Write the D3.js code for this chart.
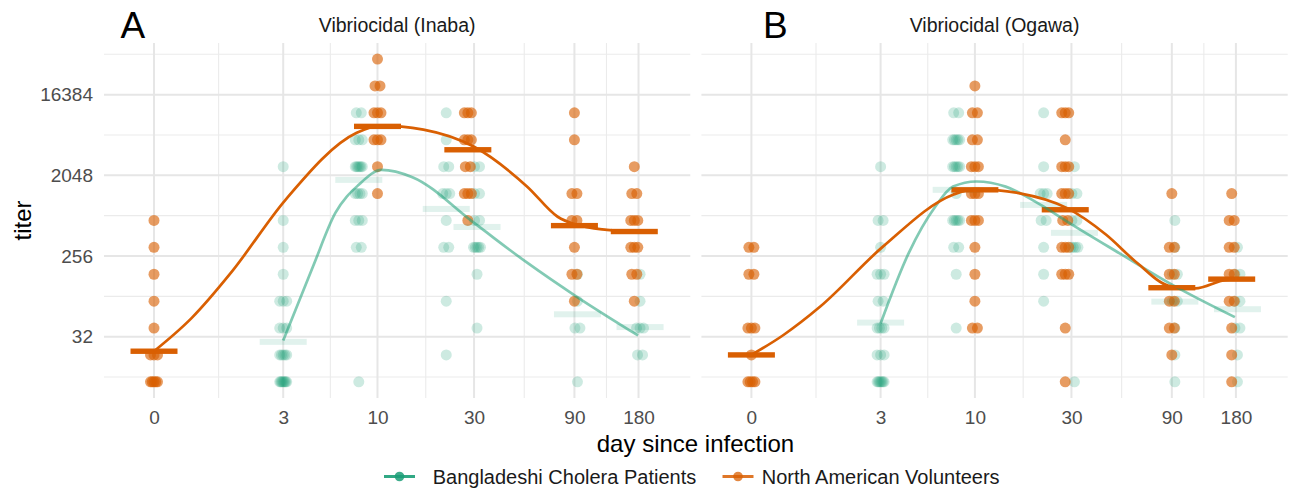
<!DOCTYPE html>
<html>
<head>
<meta charset="utf-8">
<script src="https://cdn.jsdelivr.net/npm/d3@7"></script>
<style>
  body { margin: 0; background: #fff; }
  text { font-family: "Liberation Sans", Arial, Helvetica, sans-serif; }
</style>
</head>
<body>
<div id="app"></div>
<script>
// ---- data ----
const groups = ["Bangladeshi Cholera Patients", "North American Volunteers"];
const panelTitles = ["Vibriocidal (Inaba)", "Vibriocidal (Ogawa)"];
const panelTags = ["A", "B"];
const dayTicks = [0, 3, 10, 30, 90, 180];
const titerTicks = [32, 256, 2048, 16384];

// sampling days of each visit
const patientDays = [3, 8, 22, 31, 93, 183];
const volunteerDays = [0, 10, 28, 90, 172];

// individual titers, one list per visit
const inabaPatients = [
  [2560, 640, 320, 160, 80, 80, 80, 40, 40, 40, 20, 20, 20, 20, 20, 10, 10, 10, 10, 10, 10, 10, 10],
  [10240, 10240, 5120, 5120, 5120, 2560, 2560, 2560, 2560, 2560, 2560, 1280, 1280, 1280, 1280, 640, 640, 640, 320, 320, 10],
  [10240, 5120, 2560, 2560, 1280, 1280, 1280, 640, 320, 320, 80, 20],
  [2560, 2560, 1280, 1280, 640, 640, 320, 320, 320, 320, 320, 160, 40],
  [160, 80, 40, 40, 10],
  [160, 80, 40, 40, 40, 20, 20]
];
const inabaVolunteers = [
  [640, 320, 160, 80, 40, 20, 20, 20, 10, 10, 10, 10, 10],
  [40960, 20480, 20480, 10240, 10240, 10240, 5120, 5120, 5120, 2560, 1280],
  [10240, 10240, 10240, 5120, 5120, 5120, 2560, 2560, 1280, 1280, 1280, 640],
  [10240, 5120, 1280, 1280, 640, 640, 320, 160, 160, 80],
  [2560, 1280, 1280, 640, 640, 640, 320, 320, 320, 160, 160, 80]
];
const ogawaPatients = [
  [2560, 640, 640, 320, 160, 160, 160, 80, 80, 40, 40, 40, 40, 20, 20, 20, 10, 10, 10, 10, 10, 10, 10],
  [10240, 10240, 5120, 5120, 5120, 5120, 5120, 2560, 2560, 2560, 2560, 2560, 1280, 640, 640, 640, 640, 640, 320, 320, 160, 40],
  [10240, 2560, 1280, 1280, 1280, 640, 640, 320, 160, 80],
  [2560, 1280, 1280, 640, 640, 320, 320, 320, 320, 10],
  [640, 320, 160, 160, 80, 80, 40, 20, 10],
  [320, 160, 160, 80, 80, 40, 40, 20, 10]
];
const ogawaVolunteers = [
  [320, 320, 160, 160, 40, 40, 40, 20, 10, 10, 10, 10],
  [20480, 10240, 10240, 5120, 5120, 2560, 2560, 2560, 1280, 1280, 1280, 640, 640, 640, 320, 160, 80, 40, 40],
  [10240, 10240, 10240, 5120, 2560, 2560, 2560, 1280, 1280, 1280, 640, 640, 320, 320, 320, 160, 160, 160, 40, 10],
  [1280, 320, 320, 160, 160, 80, 80, 40, 40, 20],
  [1280, 640, 640, 320, 320, 160, 160, 80, 80, 40, 20, 10]
];

// geometric mean titer per visit (crossbars)
const inabaPatientGMT = [28, 1820, 861, 541, 57, 41];
const inabaVolunteerGMT = [22, 7230, 3956, 560, 481];
const ogawaPatientGMT = [46, 1409, 955, 465, 79, 65];
const ogawaVolunteerGMT = [20, 1409, 843, 113, 141];

// smoothed trend lines
const inabaPatientFitDays = [3, 4.5, 6, 8, 10.5, 15, 30, 54, 92, 179];
const inabaPatientFit = [29, 194, 776, 1607, 2353, 1950, 600, 214, 90, 33];
const inabaVolunteerFitDays = [0, 0.5, 1.3, 3.1, 7.8, 10.3, 17, 30, 54, 75, 92, 128, 179];
const inabaVolunteerFit = [22, 52, 170, 1090, 6122, 7382, 6654, 4270, 1520, 704, 572, 501, 478];
const ogawaPatientFitDays = [3, 4.4, 6.2, 7.7, 10.2, 14.3, 21.3, 28.6, 51, 91, 178];
const ogawaPatientFit = [45, 274, 916, 1531, 1746, 1531, 955, 622, 274, 121, 53];
const ogawaVolunteerFitDays = [0, 0.4, 1.1, 3.1, 7.7, 10, 16.6, 28.6, 44, 62, 87, 116, 161, 178];
const ogawaVolunteerFit = [20, 33, 70, 326, 1243, 1438, 1296, 879, 443, 212, 119, 111, 138, 141];

const colors = ["#1B9E77", "#D95F02"];

// ---- layout ----
const width = 1291, height = 488;
const panelW = 586.3, panelTop = 43, panelBottom = 398;
const panelLeft = [104, 701.4];

const svg = d3.select("#app").append("svg")
  .attr("width", width)
  .attr("height", height);

const x = d3.scaleLog()
  .domain([Math.pow(10, -0.233), Math.pow(10, 2.499)])
  .range([0, panelW]);
const xd = d => x(d + 1);
const y = d3.scaleLog().base(2)
  .domain([Math.pow(2, 2.72), Math.pow(2, 15.92)])
  .range([panelBottom, panelTop]);

// minor breaks half way between the major ones (in transformed space)
const lt = titerTicks.map(Math.log2);
const yMinor = [lt[0] - 1.5].concat(lt.map(v => v + 1.5)).map(v => Math.pow(2, v));
const xMinor = d3.pairs(dayTicks).map(([a, b]) => Math.sqrt((a + 1) * (b + 1)) - 1);

const panels = [
  {
    title: panelTitles[0], tag: panelTags[0],
    series: [
      { g: 0, days: patientDays, titers: inabaPatients, gmt: inabaPatientGMT, fd: inabaPatientFitDays, fit: inabaPatientFit },
      { g: 1, days: volunteerDays, titers: inabaVolunteers, gmt: inabaVolunteerGMT, fd: inabaVolunteerFitDays, fit: inabaVolunteerFit }
    ]
  },
  {
    title: panelTitles[1], tag: panelTags[1],
    series: [
      { g: 0, days: patientDays, titers: ogawaPatients, gmt: ogawaPatientGMT, fd: ogawaPatientFitDays, fit: ogawaPatientFit },
      { g: 1, days: volunteerDays, titers: ogawaVolunteers, gmt: ogawaVolunteerGMT, fd: ogawaVolunteerFitDays, fit: ogawaVolunteerFit }
    ]
  }
];

// spread identical values a little so stacks read as blobs
function spreadPoints(days, titers) {
  const pts = [];
  titers.forEach((visit, i) => {
    const counts = d3.rollup(visit, v => v.length, v => v);
    counts.forEach((n, t) => {
      const s = Math.min(3.5, (n - 1) * 2.5);
      for (let k = 0; k < n; k++) {
        pts.push({ day: days[i], titer: t, dx: n === 1 ? 0 : -s + (2 * s * k) / (n - 1) });
      }
    });
  });
  return pts;
}

const line = d3.line()
  .x(d => xd(d[0]))
  .y(d => y(d[1]))
  .curve(d3.curveMonotoneX);

panels.forEach((p, pi) => {
  const g = svg.append("g").attr("transform", `translate(${panelLeft[pi]},0)`);

  // grid
  g.selectAll(".ymin").data(yMinor).enter().append("line")
    .attr("x1", 0).attr("x2", panelW)
    .attr("y1", d => y(d)).attr("y2", d => y(d))
    .attr("stroke", "#ebebeb").attr("stroke-width", 1.1);
  g.selectAll(".xmin").data(xMinor).enter().append("line")
    .attr("y1", panelTop).attr("y2", panelBottom)
    .attr("x1", d => xd(d)).attr("x2", d => xd(d))
    .attr("stroke", "#ebebeb").attr("stroke-width", 1.1);
  g.selectAll(".ymaj").data(titerTicks).enter().append("line")
    .attr("x1", 0).attr("x2", panelW)
    .attr("y1", d => y(d)).attr("y2", d => y(d))
    .attr("stroke", "#e6e6e6").attr("stroke-width", 2);
  g.selectAll(".xmaj").data(dayTicks).enter().append("line")
    .attr("y1", panelTop).attr("y2", panelBottom)
    .attr("x1", d => xd(d)).attr("x2", d => xd(d))
    .attr("stroke", "#e6e6e6").attr("stroke-width", 2);

  // points
  p.series.forEach(s => {
    g.append("g").selectAll("circle")
      .data(spreadPoints(s.days, s.titers))
      .enter().append("circle")
      .attr("cx", d => xd(d.day) + d.dx)
      .attr("cy", d => y(d.titer))
      .attr("r", 5.5)
      .attr("fill", colors[s.g])
      .attr("fill-opacity", s.g === 0 ? 0.22 : 0.62);
  });

  // crossbars (geometric means)
  p.series.forEach(s => {
    g.append("g").selectAll("rect")
      .data(s.gmt.map((v, i) => [s.days[i], v]))
      .enter().append("rect")
      .attr("x", d => xd(d[0]) - 23.5)
      .attr("width", 47)
      .attr("y", d => y(d[1]) - (s.g === 0 ? 3 : 2.7))
      .attr("height", s.g === 0 ? 6 : 5.4)
      .attr("fill", colors[s.g])
      .attr("fill-opacity", s.g === 0 ? 0.13 : 1);
  });

  // trend lines
  p.series.forEach(s => {
    g.append("path")
      .datum(s.fd.map((d, i) => [d, s.fit[i]]))
      .attr("d", line)
      .attr("fill", "none")
      .attr("stroke", colors[s.g])
      .attr("stroke-opacity", s.g === 0 ? 0.55 : 1)
      .attr("stroke-width", 2.7);
  });

  // axes labels
  const xAxis = g.append("g").attr("transform", `translate(0,${panelBottom})`)
    .call(d3.axisBottom(x).tickValues(dayTicks.map(d => d + 1)).tickFormat(d => d - 1).tickSize(0).tickPadding(13));
  xAxis.select(".domain").remove();
  xAxis.selectAll("text").attr("font-size", 19).attr("fill", "#4d4d4d")
    .style("font-family", "'Liberation Sans', Arial, sans-serif");

  if (pi === 0) {
    const yAxis = g.append("g")
      .call(d3.axisLeft(y).tickValues(titerTicks).tickFormat(d3.format("d")).tickSize(0).tickPadding(11));
    yAxis.select(".domain").remove();
    yAxis.selectAll("text").attr("font-size", 19).attr("fill", "#4d4d4d")
      .style("font-family", "'Liberation Sans', Arial, sans-serif");
  }

  // strip title
  g.append("text")
    .attr("x", panelW / 2).attr("y", 31.5)
    .attr("text-anchor", "middle")
    .attr("font-size", 19.5).attr("fill", "#1a1a1a")
    .text(p.title);
});

svg.append("text").attr("x", 120.5).attr("y", 38.3)
  .attr("font-size", 37).attr("fill", "#000").text(panelTags[0]);
svg.append("text").attr("x", 763).attr("y", 37.5)
  .attr("font-size", 37).attr("fill", "#000").text(panelTags[1]);

// axis titles
svg.append("text")
  .attr("transform", `translate(31,${(panelTop + panelBottom) / 2}) rotate(-90)`)
  .attr("text-anchor", "middle")
  .attr("font-size", 24).attr("fill", "#000")
  .text("titer");
svg.append("text")
  .attr("x", 695.5).attr("y", 452)
  .attr("text-anchor", "middle")
  .attr("font-size", 24).attr("fill", "#000")
  .text("day since infection");

// legend
const legendX = [384, 722.5];
const legend = svg.append("g").selectAll("g")
  .data(groups).enter().append("g")
  .attr("transform", (d, i) => `translate(${legendX[i]},476.5)`);
legend.append("line")
  .attr("x1", 0).attr("x2", 31).attr("y1", 0).attr("y2", 0)
  .attr("stroke", (d, i) => colors[i]).attr("stroke-width", 3)
  .attr("stroke-opacity", (d, i) => i === 0 ? 0.9 : 0.85);
legend.append("circle")
  .attr("cx", 15.5).attr("cy", 0).attr("r", 4.8)
  .attr("fill", (d, i) => colors[i]).attr("fill-opacity", (d, i) => i === 0 ? 0.85 : 0.75);
legend.append("text")
  .attr("x", (d, i) => i === 0 ? 48.7 : 39.2).attr("y", 7)
  .attr("font-size", 20).attr("fill", "#1a1a1a")
  .text(d => d);
</script>
</body>
</html>
